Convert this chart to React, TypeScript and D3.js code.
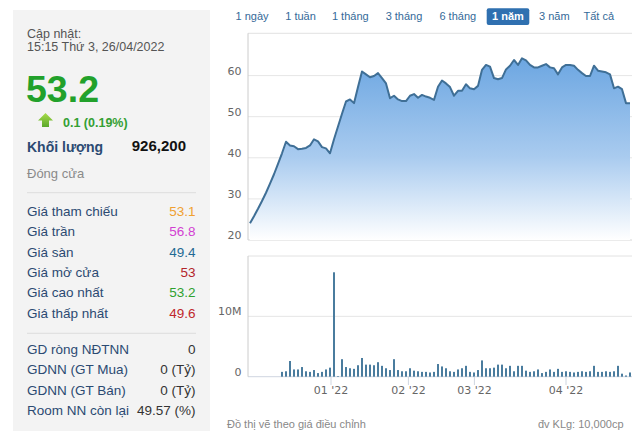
import React from "react";
import * as d3 from "d3";

// ---------- data ----------
const updateLabel = "Cập nhật:";
const updateTime = "15:15 Thứ 3, 26/04/2022";
const lastPrice = "53.2";
const change = "0.1 (0.19%)";
const volumeLabel = "Khối lượng";
const volumeValue = "926,200";
const closeLabel = "Đóng cửa";

const statLabels = ["Giá tham chiếu", "Giá trần", "Giá sàn", "Giá mở cửa", "Giá cao nhất", "Giá thấp nhất"];
const statValues = ["53.1", "56.8", "49.4", "53", "53.2", "49.6"];
const statColors = ["#f0a030", "#d23fd2", "#1f6a94", "#b3242a", "#2ea12e", "#c0262b"];

const foreignLabels = ["GD ròng NĐTNN", "GDNN (GT Mua)", "GDNN (GT Bán)", "Room NN còn lại"];
const foreignValues = ["0", "0 (Tỷ)", "0 (Tỷ)", "49.57 (%)"];

const rangeButtons = ["1 ngày", "1 tuần", "1 tháng", "3 tháng", "6 tháng", "1 năm", "3 năm", "Tất cả"];
const activeButton = "1 năm";

const prices = [
  24.1, 25.8, 27.6, 29.5, 31.5, 33.7, 36.0, 38.5, 41.1, 43.9,
  43.0, 42.8, 42.1, 42.2, 42.4, 43.0, 44.5, 44.0, 42.6, 42.3,
  41.1, 44.5, 47.6, 50.7, 53.7, 54.2, 53.3, 57.2, 61.0, 60.3,
  59.6, 59.9, 60.6, 59.4, 58.1, 54.5, 55.1, 54.2, 53.8, 53.8,
  55.1, 55.5, 54.6, 55.3, 54.9, 54.6, 54.1, 57.3, 58.8, 58.1,
  57.2, 55.1, 56.3, 56.3, 57.9, 56.9, 56.7, 57.5, 61.4, 62.6,
  62.2, 59.4, 59.1, 59.4, 61.5, 62.4, 63.8, 62.6, 64.2, 63.7,
  62.6, 62.0, 62.0, 62.4, 62.8, 62.0, 61.8, 60.3, 62.0, 62.6,
  62.6, 62.4, 61.4, 60.6, 59.9, 59.9, 62.4, 61.2, 61.0, 60.8,
  60.3, 56.9, 57.3, 56.7, 53.3, 53.3,
];

// volume in millions
const volumes = [
  0, 0, 0, 0, 0, 0, 0, 0, 0.8, 0.9,
  2.6, 1.2, 1.2, 1.6, 0.9, 0.8, 1.1, 0.6, 0.8, 1.2,
  1.5, 17.3, 0.1, 2.9, 1.6, 1.4, 1.3, 1.9, 3.1, 2.0,
  2.0, 1.9, 2.4, 1.8, 1.4, 1.1, 2.9, 1.1, 0.9, 0.9,
  1.4, 1.0, 0.9, 0.8, 0.8, 0.7, 0.8, 2.1, 1.7, 1.4,
  0.9, 0.8, 1.2, 1.4, 1.8, 0.8, 0.7, 1.1, 2.7, 1.4,
  1.4, 1.5, 2.0, 2.0, 1.4, 1.8, 0.9, 1.8, 1.8, 1.0,
  0.8, 0.9, 1.2, 0.6, 0.8, 1.2, 0.8, 1.3, 0.8, 0.9,
  0.8, 0.7, 0.8, 0.9, 0.8, 0.9, 1.8, 0.8, 0.8, 0.9,
  0.8, 0.9, 1.8, 0.5, 0.2, 0.7,
];

const priceTicks = [20, 30, 40, 50, 60];
const volumeTicks = [0, 10];
const volumeTickLabels = ["0", "10M"];
const monthLabels = ["01 '22", "02 '22", "03 '22", "04 '22"];
const monthIndex = [20.25, 39.6, 56.1, 79];

const footLeft = "Đồ thị vẽ theo giá điều chỉnh";
const footRight = "đv KLg: 10,000cp";

// ---------- layout ----------
const W = 640;
const H = 431;
const FONT = "'Liberation Sans', Arial, sans-serif";
const AXFONT = "'DejaVu Sans', Verdana, sans-serif";
const labelColor = "#2b4a72";

const plotLeft = 248;
const plotRight = 632;

export default function App() {
  const x = d3.scaleLinear().domain([0, prices.length - 1]).range([250, 630]);
  const yP = d3.scaleLinear().domain([20, 70]).range([240, 34.5]);
  const yV = d3.scaleLinear().domain([0, 20]).range([376.7, 256]);

  const area = d3
    .area<number>()
    .x((_, i) => x(i))
    .y0(yP(20))
    .y1((d) => yP(d));
  const line = d3
    .line<number>()
    .x((_, i) => x(i))
    .y((d) => yP(d));

  const btnX = [252, 300.5, 350.3, 404, 457.8, 508, 554.3, 598.8];

  return (
    <div style={{ position: "absolute", left: 0, top: 0, width: W, height: H, background: "#fff" }}>
      <svg width={W} height={H} style={{ display: "block" }}>
        <defs>
          <linearGradient id="pfill" gradientUnits="userSpaceOnUse" x1="0" y1={yP(65)} x2="0" y2={yP(20)}>
            <stop offset="0" stopColor="#6aa5e1" />
            <stop offset="0.55" stopColor="#a9cbef" />
            <stop offset="1" stopColor="#ffffff" />
          </linearGradient>
          <linearGradient id="arrow" x1="0" y1="0" x2="0" y2="1">
            <stop offset="0" stopColor="#a8dc4a" />
            <stop offset="1" stopColor="#5aa82a" />
          </linearGradient>
        </defs>

        {/* left panel */}
        <rect x={13} y={10} width={197} height={H - 10} fill="#f3f3f3" />
        <g fontFamily={FONT}>
          <text x={27} y={37.5} fontSize={12.5} fill="#555">{updateLabel}</text>
          <text x={27} y={50.7} fontSize={12.5} fill="#555">{updateTime}</text>
          <text x={26} y={101.7} fontSize={37.5} fontWeight="bold" fill="#22a12b">{lastPrice}</text>
          <polygon
            points="45.5,113 53,120.5 49,120.5 49,127 42,127 42,120.5 38,120.5"
            fill="url(#arrow)"
          />
          <text x={63} y={127} fontSize={12.5} fontWeight="bold" fill="#33a033">{change}</text>
          <text x={27} y={151.7} fontSize={14} fontWeight="bold" fill={labelColor}>{volumeLabel}</text>
          <text x={186} y={150.7} fontSize={15} fontWeight="bold" fill="#111" textAnchor="end">{volumeValue}</text>
          <text x={27} y={177.7} fontSize={13} fill="#8a8a8a">{closeLabel}</text>
          <line x1={27} x2={196} y1={192.7} y2={192.7} stroke="#dddddd" />
          {statLabels.map((s, i) => (
            <g key={s}>
              <text x={27} y={216 + i * 20.3} fontSize={13.5} fill={labelColor}>{s}</text>
              <text x={195.5} y={216 + i * 20.3} fontSize={13.5} fill={statColors[i]} textAnchor="end">
                {statValues[i]}
              </text>
            </g>
          ))}
          <line x1={27} x2={196} y1={333.3} y2={333.3} stroke="#dddddd" />
          {foreignLabels.map((s, i) => (
            <g key={s}>
              <text x={27} y={354 + i * 20.3} fontSize={13.5} fill={labelColor}>{s}</text>
              <text x={195.5} y={354 + i * 20.3} fontSize={13.5} fill="#333" textAnchor="end">
                {foreignValues[i]}
              </text>
            </g>
          ))}
        </g>

        {/* range buttons */}
        <g fontFamily={FONT} fontSize={11}>
          {rangeButtons.map((b, i) =>
            b === activeButton ? (
              <g key={b}>
                <rect x={486.7} y={8.3} width={42.6} height={16.7} rx={2} fill="#2f70b0" />
                <text x={btnX[i]} y={20} textAnchor="middle" fill="#fff" fontWeight="bold">{b}</text>
              </g>
            ) : (
              <text key={b} x={btnX[i]} y={20} textAnchor="middle" fill="#356a99">{b}</text>
            )
          )}
        </g>

        {/* price chart */}
        <line x1={plotLeft} x2={plotRight} y1={33.3} y2={33.3} stroke="#e2e2e2" />
        {priceTicks.map((t) => (
          <g key={t}>
            <line
              x1={plotLeft}
              x2={plotRight}
              y1={yP(t)}
              y2={yP(t)}
              stroke={t === 20 ? "#d8d8d8" : "#e6e6e6"}
            />
            <text
              x={241.5}
              y={yP(t) - 1}
              fontSize={11}
              fontFamily={AXFONT}
              fill="#666"
              textAnchor="end"
            >
              {t}
            </text>
          </g>
        ))}
        <path d={area(prices) || ""} fill="url(#pfill)" />
        <path d={line(prices) || ""} fill="none" stroke="#3f6f96" strokeWidth={2} strokeLinejoin="round" />
        <line x1={plotLeft} x2={plotLeft} y1={33.3} y2={240} stroke="#cccccc" />

        {/* volume chart */}
        <line x1={plotLeft} x2={plotRight} y1={256} y2={256} stroke="#e2e2e2" />
        {volumeTicks.map((t, i) => (
          <g key={t}>
            <line x1={plotLeft} x2={plotRight} y1={yV(t)} y2={yV(t)} stroke={t === 0 ? "#cfd6e0" : "#e6e6e6"} />
            <text x={241.5} y={yV(t) - 1} fontSize={11} fontFamily={AXFONT} fill="#666" textAnchor="end">
              {volumeTickLabels[i]}
            </text>
          </g>
        ))}
        {volumes.map((v, i) =>
          v > 0 ? (
            <rect
              key={i}
              x={x(i) - 1}
              y={yV(v)}
              width={2}
              height={yV(0) - yV(v)}
              fill="#4a7c9e"
            />
          ) : null
        )}
        <line x1={plotLeft} x2={plotLeft} y1={256} y2={376.7} stroke="#cccccc" />
        {monthLabels.map((m, i) => (
          <g key={m}>
            <line x1={x(monthIndex[i])} x2={x(monthIndex[i])} y1={376.7} y2={385} stroke="#cfd6e0" />
            <text
              x={x(monthIndex[i])}
              y={393.5}
              fontSize={11}
              fontFamily={AXFONT}
              fill="#666"
              textAnchor="middle"
            >
              {m}
            </text>
          </g>
        ))}

        {/* footer */}
        <text x={227} y={428} fontSize={11} fontFamily={FONT} fill="#888">{footLeft}</text>
        <text x={623.5} y={428} fontSize={11} fontFamily={FONT} fill="#888" textAnchor="end">{footRight}</text>
      </svg>
    </div>
  );
}
